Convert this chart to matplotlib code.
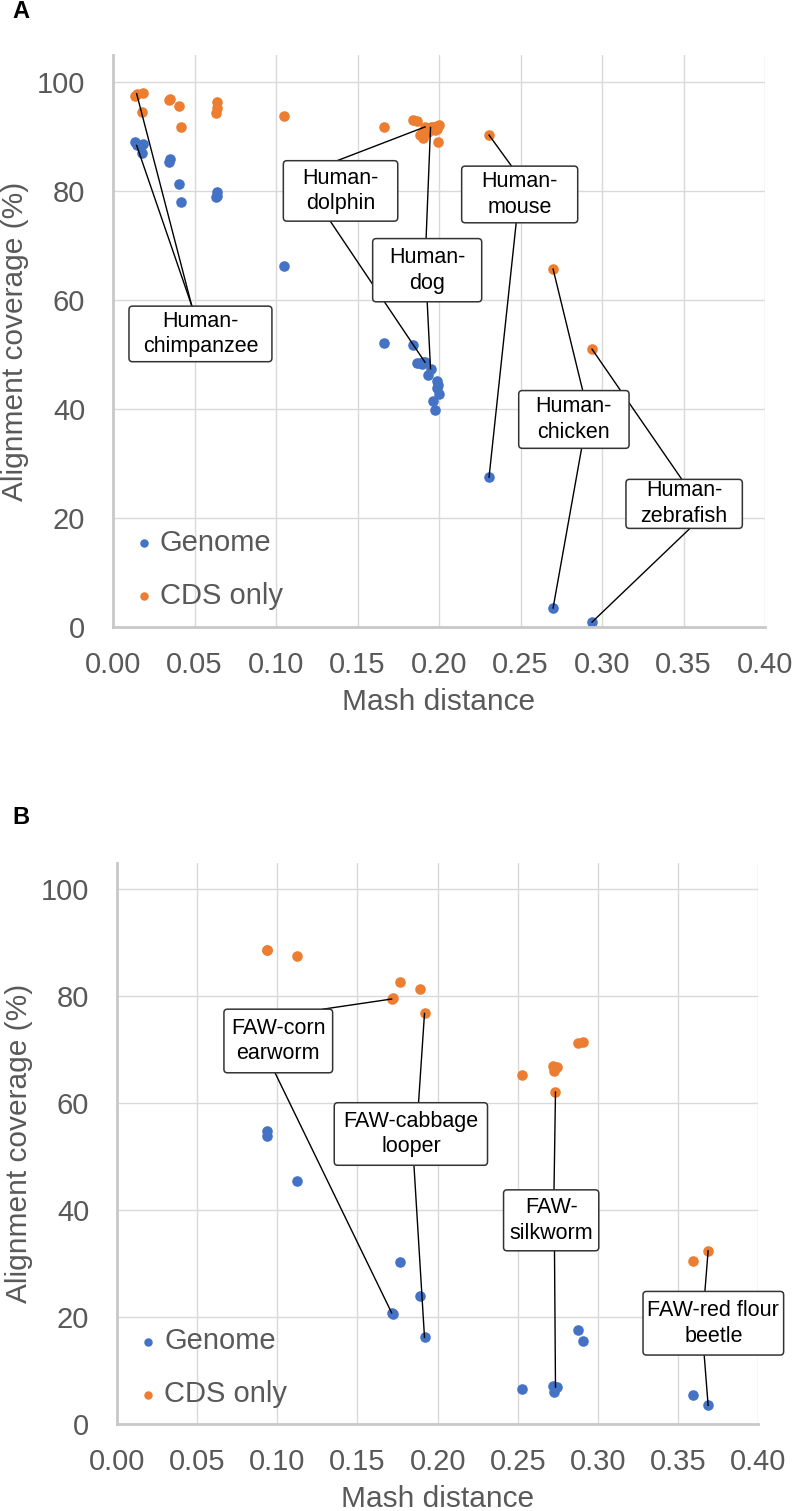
import matplotlib.pyplot as plt
from matplotlib.patches import FancyBboxPatch

plt.rcParams['font.family'] = ['Liberation Sans', 'DejaVu Sans']

BLUE = '#4472c4'
ORANGE = '#ed7d31'
GREY = '#595959'

# ---- panel A: human vs other vertebrates ----
mash_a = [0.0135, 0.0145, 0.0182, 0.0176, 0.0344, 0.0350, 0.0403, 0.0420,
          0.0636, 0.0636, 0.0634, 0.1051, 0.1665, 0.1843, 0.1864, 0.1883,
          0.1894, 0.1904, 0.1914, 0.1935, 0.1948, 0.1965, 0.1975, 0.1986,
          0.1990, 0.1996, 0.1998, 0.2307, 0.2700, 0.2939]
genome_a = [89.0, 88.4, 88.7, 87.0, 85.4, 86.0, 81.3, 78.0,
            79.8, 79.2, 79.0, 66.3, 52.1, 51.8, 48.5, 48.4,
            48.2, 48.6, 48.6, 46.3, 47.4, 41.5, 39.8, 45.2,
            43.9, 44.5, 42.7, 27.5, 3.5, 0.9]
cds_a = [97.5, 97.9, 98.0, 94.5, 96.8, 97.0, 95.6, 91.7,
         96.3, 95.3, 94.3, 93.8, 91.8, 93.1, 92.9, 90.3,
         90.6, 89.7, 91.8, 90.8, 91.7, 91.8, 91.2, 92.0,
         91.5, 89.1, 92.2, 90.3, 65.7, 51.0]
labels_a = ['Human-\nchimpanzee', 'Human-\ndolphin', 'Human-\ndog',
            'Human-\nmouse', 'Human-\nchicken', 'Human-\nzebrafish']
label_pairs_a = [1, 18, 20, 27, 28, 29]

# ---- panel B: FAW vs other insects ----
mash_b = [0.0937, 0.0933, 0.1124, 0.1713, 0.1722, 0.1764, 0.1887, 0.1918,
          0.2527, 0.2720, 0.2745, 0.2724, 0.2735, 0.2876, 0.2905, 0.3593,
          0.3687]
genome_b = [54.9, 53.8, 45.4, 20.8, 20.6, 30.3, 24.0, 16.2,
            6.6, 7.1, 7.0, 6.0, 6.9, 17.6, 15.6, 5.5,
            3.5]
cds_b = [88.7, 88.6, 87.5, 79.5, 79.7, 82.7, 81.4, 76.8,
         65.3, 66.9, 66.7, 66.0, 62.1, 71.3, 71.5, 30.4,
         32.4]
labels_b = ['FAW-corn\nearworm', 'FAW-cabbage\nlooper', 'FAW-\nsilkworm',
            'FAW-red flour\nbeetle']
label_pairs_b = [3, 7, 12, 16]

# label boxes (x0, x1, y0, y1) and where the leader lines leave them
boxes_a = [(0.0098, 0.0975, 48.7, 58.9, [('cds', 'top', 0.44), ('genome', 'top', 0.44)]),
           (0.1045, 0.1747, 74.5, 85.6, [('cds', 'top', 0.47), ('genome', 'bottom', 0.41)]),
           (0.1593, 0.2262, 59.7, 71.3, [('cds', 'top', 0.49), ('genome', 'bottom', 0.50)]),
           (0.2139, 0.2851, 74.2, 84.6, [('cds', 'top', 0.43), ('genome', 'bottom', 0.47)]),
           (0.2489, 0.3166, 32.8, 43.4, [('cds', 'top', 0.58), ('genome', 'bottom', 0.57)]),
           (0.3147, 0.3861, 18.1, 27.1, [('cds', 'top', 0.48), ('genome', 'bottom', 0.55)])]
boxes_b = [(0.0667, 0.1345, 65.7, 77.6, [('cds', 'top', 0.91), ('genome', 'bottom', 0.47)]),
           (0.1355, 0.2311, 48.4, 60.1, [('cds', 'top', 0.55), ('genome', 'bottom', 0.52)]),
           (0.2411, 0.3005, 32.4, 43.8, [('cds', 'top', 0.53), ('genome', 'bottom', 0.535)]),
           (0.3281, 0.4158, 12.9, 24.8, [('cds', 'top', 0.44), ('genome', 'bottom', 0.435)])]


def draw_panel(ax, mash, genome, cds, labels, pairs, boxes, legend_anchor):
    ax.scatter(mash, genome, s=58, color=BLUE, linewidths=0, label='Genome', zorder=2)
    ax.scatter(mash, cds, s=58, color=ORANGE, linewidths=0, label='CDS only', zorder=2)

    for text, i, (x0, x1, y0, y1, links) in zip(labels, pairs, boxes):
        for series, edge, frac in links:
            yv = genome[i] if series == 'genome' else cds[i]
            ye = y1 if edge == 'top' else y0
            ax.plot([x0 + frac * (x1 - x0), mash[i]], [ye, yv], color='black',
                    lw=1.0, zorder=3, clip_on=False)
        box = FancyBboxPatch((x0, y0), x1 - x0, y1 - y0,
                             boxstyle='round,pad=0,rounding_size=0.0022',
                             mutation_aspect=300, fc='white', ec='#333333',
                             lw=1.1, zorder=4, clip_on=False)
        ax.add_patch(box)
        ax.text((x0 + x1) / 2, (y0 + y1) / 2, text, ha='center', va='center',
                fontsize=15.5, color='black', zorder=5, linespacing=1.3, clip_on=False)

    ax.set_xlim(0, 0.40)
    ax.set_ylim(0, 105)
    ax.set_xticks([0.00, 0.05, 0.10, 0.15, 0.20, 0.25, 0.30, 0.35, 0.40])
    ax.set_yticks([0, 20, 40, 60, 80, 100])
    ax.xaxis.set_major_formatter(plt.FormatStrFormatter('%.2f'))
    ax.grid(color='#d9d9d9', lw=1.0)
    ax.set_axisbelow(True)
    for side in ['top', 'right']:
        ax.spines[side].set_visible(False)
    for side in ['left', 'bottom']:
        ax.spines[side].set_color('#c8c8c8')
        ax.spines[side].set_linewidth(2)
    ax.tick_params(axis='both', length=0, labelsize=21, colors=GREY)
    ax.tick_params(axis='y', pad=20)
    ax.tick_params(axis='x', pad=17)
    ax.set_xlabel('Mash distance', fontsize=21.5, color=GREY, labelpad=7)
    ax.set_ylabel('Alignment coverage (%)', fontsize=21.5, color=GREY, labelpad=6)
    ax.legend(loc='lower left', bbox_to_anchor=legend_anchor, frameon=False,
              fontsize=21, labelcolor=GREY, markerscale=0.8, handlelength=0.6,
              handletextpad=0.25, labelspacing=0.85, borderpad=0, borderaxespad=0,
              scatterpoints=1)


fig = plt.figure(figsize=(7.94, 15.11), dpi=100)
ax_a = fig.add_axes([113 / 794, 884 / 1511, 652 / 794, 572 / 1511])
ax_b = fig.add_axes([117 / 794, 87 / 1511, 641.3 / 794, 561.3 / 1511])

draw_panel(ax_a, mash_a, genome_a, cds_a, labels_a, label_pairs_a, boxes_a, (0.034, 0.030))
draw_panel(ax_b, mash_b, genome_b, cds_b, labels_b, label_pairs_b, boxes_b, (0.035, 0.028))

fig.text(12 / 794, 1 - 0 / 1511, 'A', fontsize=17, fontweight='bold', va='top', ha='left')
fig.text(12 / 794, 1 - 806 / 1511, 'B', fontsize=17, fontweight='bold', va='top', ha='left')

fig.savefig('out.png', dpi=100)
